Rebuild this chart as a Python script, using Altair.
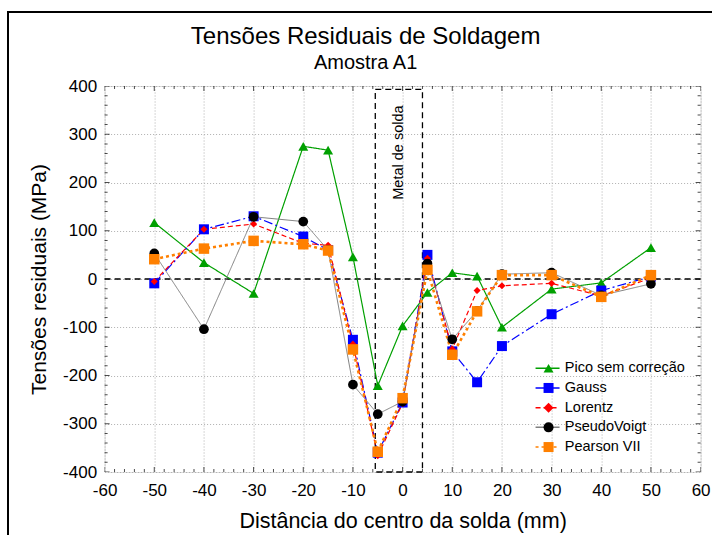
import altair as alt
import pandas as pd

# ---------------- data ----------------
x_mm = [-50, -40, -30, -20, -15, -10, -5, 0, 5, 10, 15, 20, 30, 40, 50]
series_names = ["Pico sem correção", "Gauss", "Lorentz", "PseudoVoigt", "Pearson VII"]
pico = [117, 34, -30, 275, 267, 46, -221, -97, -28, 13, 6, -100, -21, -8, 65]
gauss = [-9, 103, 130, 88, 60, -126, -360, -256, 50, -150, -214, -139, -73, -24, 5]
lorentz = [-5, 103, 114, 74, 70, -135, -366, -258, 43, -145, -24, -14, -9, -35, 2]
pseudovoigt = [53, -104, 129, 119, 60, -219, -280, -254, 32, -125, -66, 10, 13, -34, -10]
pearson = [41, 63, 79, 72, 59, -146, -358, -247, 19, -157, -67, 8, 8, -37, 8]
values = [pico, gauss, lorentz, pseudovoigt, pearson]

x_ticks = [-60, -50, -40, -30, -20, -10, 0, 10, 20, 30, 40, 50, 60]
y_ticks = [-400, -300, -200, -100, 0, 100, 200, 300, 400]
weld_zone = [-5.5, 4]
weld_top = 393
weld_label = "Metal de solda"
weld_label_pos = [-0.75, 262]

# ---------------- styles ----------------
line_colors = ["#00a000", "#0000ff", "#ff0000", "#808080", "#ff8000"]
fill_colors = ["#00a000", "#0000ff", "#ff0000", "#000000", "#ff8000"]
dashes = [[1, 0], [9, 3, 2, 3], [5, 3], [1, 0], [3, 3]]
widths = [1.2, 1.2, 1.2, 1.0, 2.6]
shapes = ["triangle-up", "square", "diamond", "circle", "square"]
sizes = [100, 100, 50, 95, 110]
FONT = "Liberation Sans"
W, H = 596, 386

mnames = [n + "\u200b" for n in series_names]
rows = []
for i, (name, vals) in enumerate(zip(series_names, values)):
    for xv, yv in zip(x_mm, vals):
        rows.append({"x": xv, "y": yv, "series": name, "mseries": mnames[i],
                     "sw": widths[i], "ms": sizes[i]})
df = pd.DataFrame(rows)

xscale = alt.Scale(domain=[-60, 60], nice=False, zero=False)
yscale = alt.Scale(domain=[-400, 400], nice=False, zero=False)

x_enc = alt.X("x:Q", scale=xscale, title="Distância do centro da solda (mm)",
              axis=alt.Axis(values=x_ticks, ticks=False, domain=False, grid=True,
                            gridDash=[1, 2], gridColor="#b0b0b0", gridWidth=1,
                            labelFontSize=17, titleFontSize=21.5, labelFont=FONT,
                            titleFont=FONT, labelColor="black", titleColor="black",
                            titleFontWeight="normal", labelPadding=10, titlePadding=12,
                            labelFlush=False, labelExpr="'' + datum.value"))
y_enc = alt.Y("y:Q", scale=yscale, title="Tensões residuais (MPa)",
              axis=alt.Axis(values=y_ticks, ticks=False, domain=False, grid=True,
                            gridDash=[1, 2], gridColor="#b0b0b0", gridWidth=1,
                            labelFontSize=17, titleFontSize=21, labelFont=FONT,
                            titleFont=FONT, labelColor="black", titleColor="black",
                            titleFontWeight="normal", labelPadding=8, titlePadding=13,
                            labelFlush=False, labelExpr="'' + datum.value"))

base = alt.Chart(df)

# outer frame (decoration)
frame = alt.Chart(pd.DataFrame({"a": [0]})).mark_rect(
    filled=False, stroke="black", strokeWidth=2
).encode(x=alt.value(-96.6), x2=alt.value(W + 60), y=alt.value(-74), y2=alt.value(H + 120))

zero_line = alt.Chart(pd.DataFrame({"a": [0]})).mark_rule(
    color="black", strokeDash=[6, 4], strokeWidth=1.3
).encode(y=alt.datum(0))

box = alt.Chart(pd.DataFrame({"a": [0]})).mark_rect(
    filled=False, stroke="black", strokeDash=[6, 4], strokeWidth=1.3
).encode(x=alt.datum(weld_zone[0]), x2=alt.datum(weld_zone[1]),
         y=alt.datum(weld_top), y2=alt.datum(-400))

text = alt.Chart(pd.DataFrame({"x": [weld_label_pos[0]], "y": [weld_label_pos[1]],
                               "t": [weld_label]})).mark_text(
    angle=270, fontSize=14.5, font=FONT, color="black"
).encode(x="x:Q", y="y:Q", text="t:N")

lines = base.mark_line().encode(
    x=x_enc, y=y_enc,
    color=alt.Color("series:N", scale=alt.Scale(domain=series_names, range=line_colors),
                    legend=alt.Legend(title=None, orient="none", legendX=435.7, legendY=275,
                                      padding=0, labelFontSize=14.5, labelFont=FONT,
                                      labelColor="black", symbolType="M-2,0H2",
                                      symbolSize=144, symbolStrokeWidth=1.5,
                                      labelOffset=10, rowPadding=4.7)),
    strokeDash=alt.StrokeDash("series:N", scale=alt.Scale(domain=series_names, range=dashes)),
    strokeWidth=alt.StrokeWidth("sw:Q", scale=None),
)

points = base.mark_point(filled=True, opacity=1, strokeWidth=0).encode(
    x="x:Q", y="y:Q",
    fill=alt.Fill("mseries:N", scale=alt.Scale(domain=mnames, range=fill_colors),
                  legend=alt.Legend(title=None, orient="none", legendX=436.7, legendY=275,
                                    padding=0, labelFontSize=14.5, labelFont=FONT,
                                    labelOpacity=0, symbolSize=100, symbolStrokeWidth=0,
                                    labelOffset=10, rowPadding=4.7)),
    shape=alt.Shape("mseries:N", scale=alt.Scale(domain=mnames, range=shapes)),
    size=alt.Size("ms:Q", scale=None),
)

# inward ticks (decoration)
xt = pd.DataFrame({"v": list(range(-60, 61, 2))})
xt["len"] = [10 if v % 10 == 0 else 6 for v in xt["v"]]
yt = pd.DataFrame({"v": list(range(-400, 401, 20))})
yt["len"] = [10 if v % 100 == 0 else 6 for v in yt["v"]]

tick_bottom = alt.Chart(xt).mark_tick(orient="vertical", clip=True, color="black", thickness=1).encode(
    x="v:Q", y=alt.value(H), size=alt.Size("len:Q", scale=None))
tick_top = alt.Chart(xt).mark_tick(orient="vertical", clip=True, color="black", thickness=1).encode(
    x="v:Q", y=alt.value(0), size=alt.Size("len:Q", scale=None))
tick_left = alt.Chart(yt).mark_tick(orient="horizontal", clip=True, color="black", thickness=1).encode(
    y="v:Q", x=alt.value(0), size=alt.Size("len:Q", scale=None))
tick_right = alt.Chart(yt).mark_tick(orient="horizontal", clip=True, color="black", thickness=1).encode(
    y="v:Q", x=alt.value(W), size=alt.Size("len:Q", scale=None))

chart = alt.layer(
    frame, zero_line, box, lines, points, text,
    tick_bottom, tick_top, tick_left, tick_right
).properties(
    width=W, height=H,
    title=alt.TitleParams("Tensões Residuais de Soldagem", subtitle="Amostra A1",
                          fontSize=24, subtitleFontSize=20, font=FONT, subtitleFont=FONT,
                          fontWeight="normal", color="black", subtitleColor="black",
                          anchor="middle", dx=-37, offset=-62, subtitlePadding=4),
    padding={"left": 104.6, "top": 86, "right": 11.4, "bottom": 63},
    autosize=alt.AutoSizeParams(type="none"),
).configure_view(stroke="black", strokeWidth=1.5).configure(background="white")

chart.save("out.html", embed_options={"renderer": "svg", "actions": False})
